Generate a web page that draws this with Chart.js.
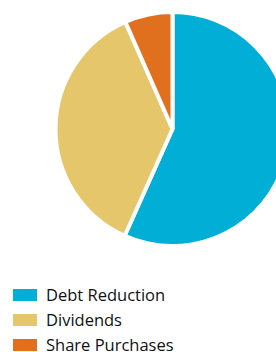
<!DOCTYPE html>
<html>
<head>
<meta charset="utf-8">
<script src="https://cdn.jsdelivr.net/npm/chart.js@4/dist/chart.umd.min.js"></script>
<style>
  html, body { margin: 0; padding: 0; background: #fff; width: 276px; height: 352px; overflow: hidden; }
  #wrap { position: absolute; left: 0; top: 0; width: 345px; height: 258px; }
  #legend { position: absolute; left: 13px; top: 282px; font-family: "Open Sans", sans-serif; font-size: 16.5px; font-weight: 500; color: #111; }
  .row { display: flex; align-items: center; height: 25px; }
  .box { width: 24px; height: 12px; margin-right: 9px; flex: none; }
</style>
</head>
<body>
<div id="wrap"><canvas id="c" width="345" height="258"></canvas></div>
<div id="legend"></div>
<script>
const categories = ["Debt Reduction", "Dividends", "Share Purchases"];
const shares = [56.7, 36.7, 6.6];
const colors = ["#00AED6", "#E6C66A", "#E0701E"];

const chart = new Chart(document.getElementById("c"), {
  type: "pie",
  data: {
    labels: categories,
    datasets: [{
      data: shares,
      backgroundColor: colors,
      borderColor: "#ffffff",
      borderWidth: 4
    }]
  },
  options: {
    responsive: false,
    animation: false,
    layout: { padding: { top: 10, bottom: 10, left: 0, right: 0 } },
    plugins: { legend: { display: false }, tooltip: { enabled: false } }
  }
});

const legend = document.getElementById("legend");
chart.data.labels.forEach((lab, i) => {
  const row = document.createElement("div");
  row.className = "row";
  const box = document.createElement("span");
  box.className = "box";
  box.style.background = chart.data.datasets[0].backgroundColor[i];
  const txt = document.createElement("span");
  txt.textContent = lab;
  row.appendChild(box);
  row.appendChild(txt);
  legend.appendChild(row);
});
</script>
</body>
</html>
